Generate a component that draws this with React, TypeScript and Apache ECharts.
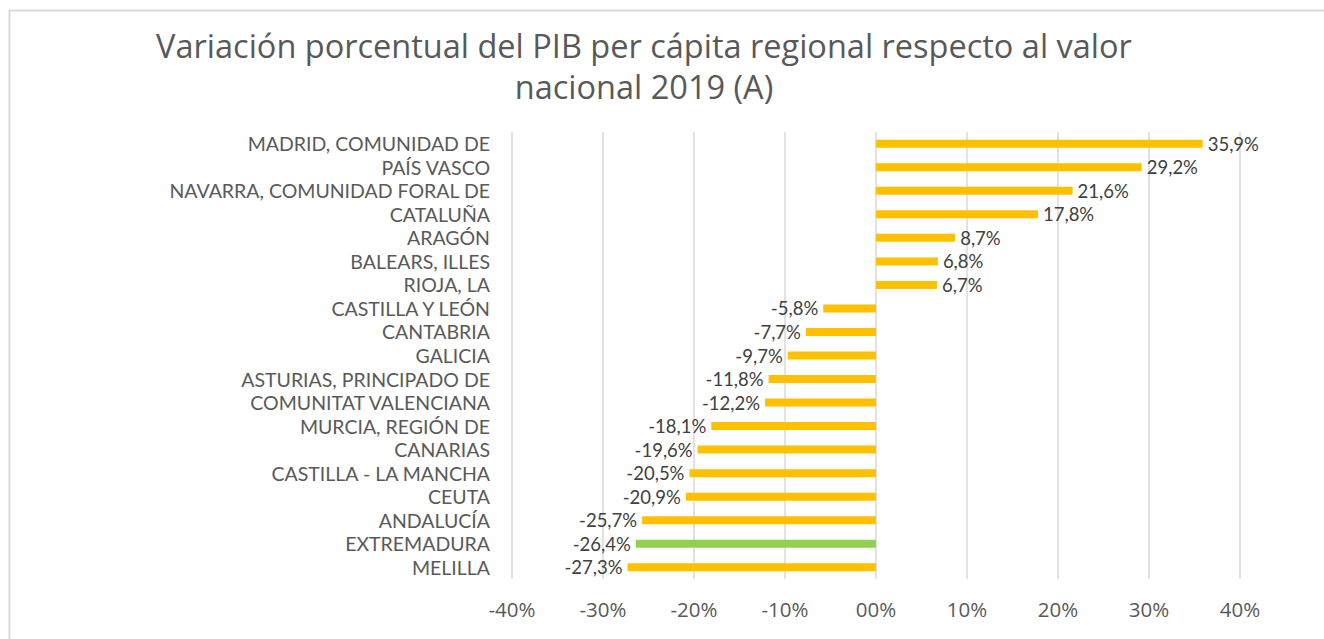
import React, { useEffect, useRef } from "react";
import * as echarts from "echarts";

const categories = [
  "MADRID, COMUNIDAD DE",
  "PAÍS VASCO",
  "NAVARRA, COMUNIDAD FORAL DE",
  "CATALUÑA",
  "ARAGÓN",
  "BALEARS, ILLES",
  "RIOJA, LA",
  "CASTILLA Y LEÓN",
  "CANTABRIA",
  "GALICIA",
  "ASTURIAS, PRINCIPADO DE",
  "COMUNITAT VALENCIANA",
  "MURCIA, REGIÓN DE",
  "CANARIAS",
  "CASTILLA - LA MANCHA",
  "CEUTA",
  "ANDALUCÍA",
  "EXTREMADURA",
  "MELILLA",
];
const values = [35.9, 29.2, 21.6, 17.8, 8.7, 6.8, 6.7, -5.8, -7.7, -9.7, -11.8, -12.2, -18.1, -19.6, -20.5, -20.9, -25.7, -26.4, -27.3];
const highlight = "EXTREMADURA";
const titleLines = ["Variación porcentual del PIB per cápita regional respecto al valor", "nacional 2019 (A)"];

const FONT = "'Open Sans', sans-serif";
const LFONT = "Lato, sans-serif";

export default function App() {
  const ref = useRef<HTMLDivElement>(null);
  useEffect(() => {
    const chart = echarts.init(ref.current!, null, { renderer: "svg" });
    chart.setOption({
      animation: false,
      backgroundColor: "#fff",
      title: {
        text: titleLines.join("\n"),
        left: 639,
        textAlign: "center",
        top: 20,
        textStyle: { fontFamily: FONT, fontSize: 32.5, fontWeight: "normal", color: "#595959", lineHeight: 41 },
      },
      graphic: [
        { type: "line", shape: { x1: 9, y1: 10.5, x2: 1324, y2: 10.5 }, style: { stroke: "#d9d9d9", lineWidth: 2 } },
        { type: "line", shape: { x1: 9.5, y1: 10, x2: 9.5, y2: 639 }, style: { stroke: "#d9d9d9", lineWidth: 2 } },
      ],
      grid: { left: 512, right: 84, top: 132, bottom: 60, containLabel: false },
      xAxis: {
        type: "value",
        min: -40,
        max: 40,
        interval: 10,
        axisLine: { show: false },
        axisTick: { show: false },
        splitLine: { lineStyle: { color: "#d9d9d9", width: 1.5 } },
        axisLabel: {
          margin: 19,
          fontFamily: FONT,
          fontSize: 20.5,
          color: "#595959",
          formatter: (v: number) => (v === 0 ? "00%" : v + "%"),
        },
      },
      yAxis: {
        type: "category",
        data: categories,
        inverse: true,
        axisLine: { show: false },
        axisTick: { show: false },
        axisLabel: { interval: 0, hideOverlap: false, margin: 22, fontFamily: LFONT, fontSize: 19.5, lineHeight: 22, color: "#595959" },
      },
      series: [
        {
          type: "bar",
          barWidth: 8,
          data: values.map((v, i) => ({
            value: v,
            itemStyle: { color: categories[i] === highlight ? "#92D050" : "#FFC000" },
            label: {
              show: true,
              position: v >= 0 ? "right" : "left",
              distance: 5,
              fontFamily: LFONT,
              fontSize: 18.5,
              lineHeight: 20,
              color: "#404040",
              formatter: () => v.toFixed(1).replace(".", ",") + "%",
            },
          })),
        },
      ],
    });
    return () => chart.dispose();
  }, []);
  return <div ref={ref} style={{ position: "absolute", left: 0, top: 0, width: 1324, height: 639 }} />;
}
